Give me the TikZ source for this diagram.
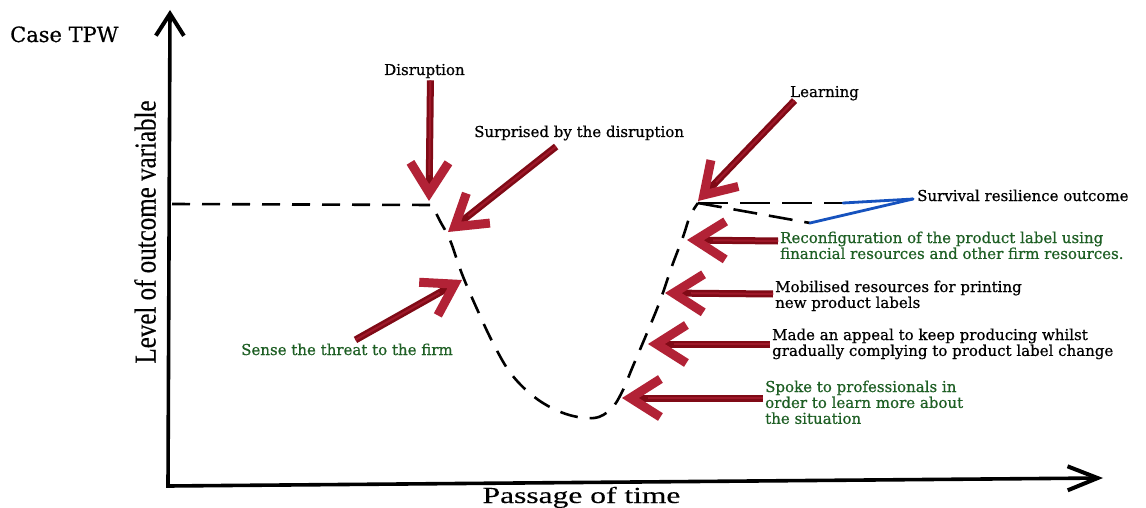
\documentclass[tikz,border=0pt]{standalone}
\usepackage{fontspec}
\setmainfont{DejaVu Serif}
\newfontfamily\labelfont[FakeBold=0.6]{DejaVu Serif}
\newfontfamily\axisfont[FakeBold=0.3]{Liberation Serif}
\usetikzlibrary{arrows.meta,calc}
\definecolor{arrowdark}{RGB}{128,10,22}
\definecolor{arrowlight}{RGB}{178,34,54}
\definecolor{labelgreen}{RGB}{30,95,36}
\definecolor{linkblue}{RGB}{22,82,190}
\newcommand{\stacklines}[1]{\begin{tabular}[t]{@{}l@{}}#1\end{tabular}}

\begin{document}
\begin{tikzpicture}[x=1pt,y=-1pt,
  lbl/.style={inner sep=0pt, font=\labelfont\fontsize{15}{15}\selectfont, text=black},
  glbl/.style={lbl, text=labelgreen},
  axis/.style={line width=3.6pt, black, line join=miter},
  trend/.style={line width=2.6pt, dash pattern=on 18pt off 12pt, black},
  pointer/.style={line width=7pt, draw=arrowdark,
    -{Straight Barb[length=30pt,width=38pt,line width=9pt,color=arrowlight]},
    postaction={draw=arrowlight!60!arrowdark, line width=2pt, arrows=-, shorten >=26pt}},
  link/.style={line width=2.8pt, draw=linkblue, line cap=round}]

\fill[white] (0,0) rectangle (1146,508);
\useasboundingbox (0,0) rectangle (1146,508);

% axes
\coordinate (orig) at (168,486);
\coordinate (ytop) at (170,10);
\coordinate (xend) at (1103,478);
\draw[axis, {Straight Barb[length=22pt,width=28pt,line width=4pt]}-{Straight Barb[length=30pt,width=24pt,line width=4pt]}]
  (ytop) -- (orig) -- (xend);

\node[inner sep=0pt, anchor=base west, font=\labelfont\fontsize{21}{21}\selectfont] (case) at (10,42) {Case TPW};
\node[inner sep=0pt, anchor=base, font=\axisfont\fontsize{23}{23}\selectfont] (xlab) at (581.5,503) {\scalebox{1.37}[1]{Passage of time}};
\node[inner sep=0pt, rotate=90, font=\axisfont\fontsize{25}{25}\selectfont] (ylab) at (145,232) {\scalebox{1}[1.21]{Level of outcome variable}};

% outcome trajectory
\coordinate (start) at (172,204);
\coordinate (drop) at (432,205);
\coordinate (peak) at (698,203);
\coordinate (upEnd) at (843,203);
\coordinate (lowEnd) at (810,223);
\draw[trend] (start) -- (drop) -- plot[smooth, tension=0.6] coordinates {(432,205) (440,221) (450,240) (462,274) (477,309) (494,345) (512,375) (537,399) (566,414) (594,418) (611,409) (622,392) (633,366) (647,333) (660,301) (672,266) (683,237) (690,216) (698,203)};
\draw[trend, dash pattern=on 30pt off 12pt] (peak) -- (upEnd);
\draw[trend, dash pattern=on 24pt off 12pt] (peak) -- (lowEnd);

% labels
\node[lbl, anchor=base west] (dis) at (384,75) {Disruption};
\node[lbl, anchor=base west] (sur) at (474,137) {Surprised by the disruption};
\node[lbl, anchor=base west] (lea) at (790,97) {Learning};
\node[lbl, anchor=base west] (srv) at (917,201) {Survival resilience outcome};
\node[glbl, anchor=base west] (rec) at (780,243) {\stacklines{Reconfiguration of the product label using\\financial resources and other firm resources.}};
\node[lbl, anchor=base west] (mob) at (775,292) {\stacklines{Mobilised resources for printing\\new product labels}};
\node[lbl, anchor=base west] (app) at (772,340) {\stacklines{Made an appeal to keep producing whilst\\gradually complying to product label change}};
\node[glbl, anchor=base west] (spk) at (765,392) {\stacklines{Spoke to professionals in\\order to learn more about\\the situation}};
\node[glbl, anchor=base west] (sen) at (241,355) {Sense the threat to the firm};

% blue links to the outcome label
\coordinate (srvpt) at ([xshift=-4pt,yshift=2pt]srv.base west);
\draw[link] (upEnd) -- (srvpt);
\draw[link] (lowEnd) -- (srvpt);

% arrow targets on the trajectory
\coordinate (tDis) at (429,201);
\coordinate (tSur) at (448,232);
\coordinate (tLea) at (698,201);
\coordinate (tSen) at (462,280);
\coordinate (tRec) at (687,240);
\coordinate (tMob) at (665,293);
\coordinate (tApp) at (648,344);
\coordinate (tSpk) at (622,398);

\draw[pointer] ([xshift=6pt,yshift=-2pt]dis.south) -- (tDis);
\draw[pointer] ([xshift=-23pt,yshift=-6pt]sur.south) -- (tSur);
\draw[pointer] ([xshift=-30pt,yshift=0pt]lea.south) -- (tLea);
\draw[pointer] ([xshift=8.5pt,yshift=3.5pt]sen.north) -- (tSen);
\draw[pointer] ([xshift=-2pt,yshift=2pt]rec.base west) -- (tRec);
\draw[pointer] ([xshift=-2pt,yshift=-2pt]mob.base west) -- (tMob);
\draw[pointer] ([xshift=-2pt,yshift=-4pt]app.base west) -- (tApp);
\draw[pointer] ([xshift=-2pt,yshift=-6pt]spk.base west) -- (tSpk);
\end{tikzpicture}
\end{document}
